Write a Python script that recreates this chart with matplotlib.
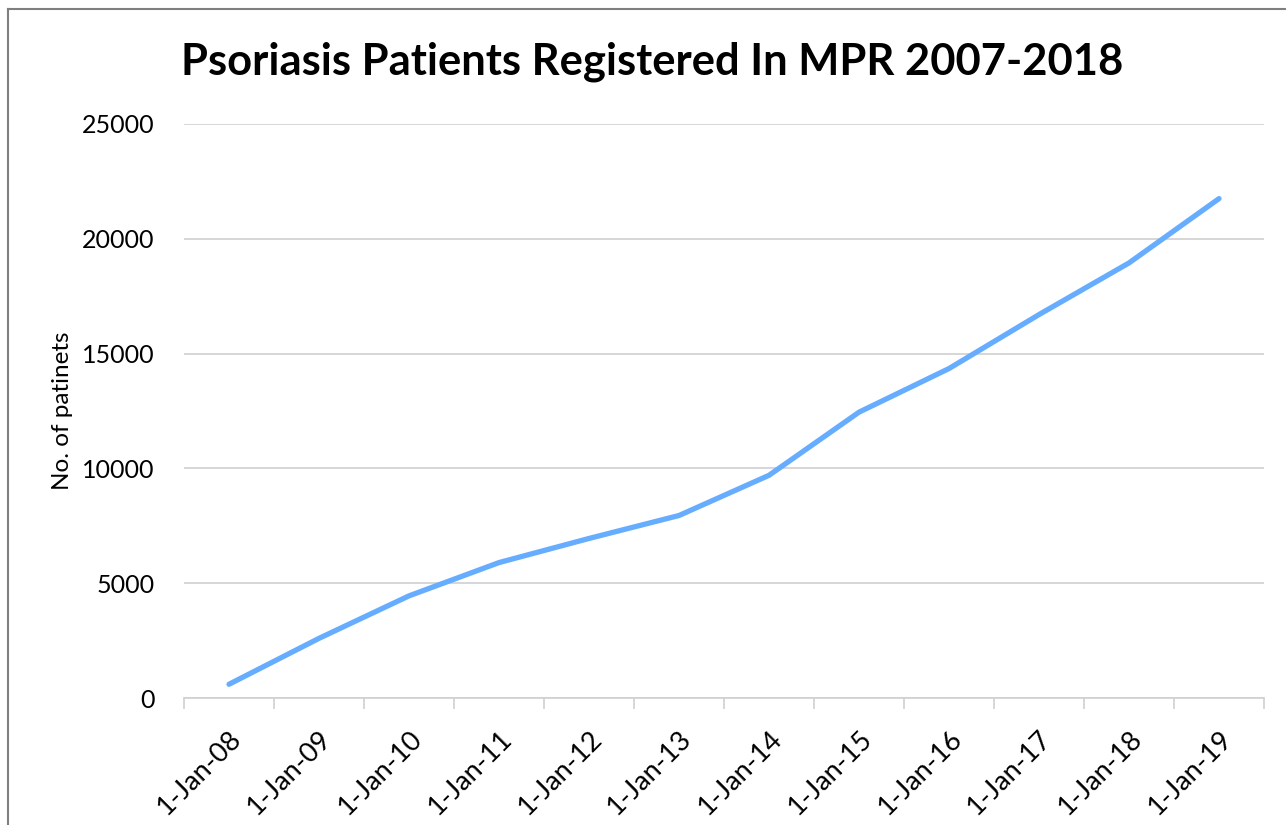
import numpy as np
import matplotlib.pyplot as plt
from matplotlib.lines import Line2D

# data
dates = ['1-Jan-08', '1-Jan-09', '1-Jan-10', '1-Jan-11', '1-Jan-12', '1-Jan-13',
         '1-Jan-14', '1-Jan-15', '1-Jan-16', '1-Jan-17', '1-Jan-18', '1-Jan-19']
patients = [600, 2600, 4450, 5900, 6950, 7950,
            9700, 12450, 14350, 16700, 18950, 21750]

plt.rcParams['font.family'] = ['Lato', 'DejaVu Sans']

fig = plt.figure(figsize=(12.86, 8.25), dpi=100)
ax = fig.add_axes([0.1431, 0.1539, 0.8398, 0.6958])

x = np.arange(len(dates))
ax.plot(x, patients, color='#66adff', lw=3.8, solid_capstyle='round', solid_joinstyle='round')

ax.set_xlim(-0.5, len(dates) - 0.5)
ax.set_ylim(0, 25000)
ax.set_yticks(np.arange(0, 25001, 5000))
ax.grid(axis='y', color='#d0d0d0', lw=1.2)
ax.set_axisbelow(True)

ax.set_xticks(x)
ax.set_xticklabels(dates, rotation=45, ha='right', rotation_mode='anchor', fontsize=19.5)
ax.set_xticks(np.arange(-0.5, len(dates)), minor=True)
ax.tick_params(axis='x', which='major', length=0, pad=20)
ax.tick_params(axis='x', which='minor', length=8, color='#d0d0d0', width=1.2)
ax.tick_params(axis='y', length=0, labelsize=18, pad=21)

for s in ['top', 'right', 'left']:
    ax.spines[s].set_visible(False)
ax.spines['bottom'].set_color('#d0d0d0')
ax.spines['bottom'].set_linewidth(1.2)

ax.set_ylabel('No. of patinets', fontsize=17.5, labelpad=7)
fig.text(0.507, 0.925, 'Psoriasis Patients Registered In MPR 2007-2018',
         ha='center', va='center', fontsize=31.3, fontweight='bold')

# frame at top/left edge of the picture
fig.add_artist(Line2D([0.006, 0.006], [0.0, 0.989], color='#7f7f7f', lw=1.5))
fig.add_artist(Line2D([0.006, 1.0], [0.989, 0.989], color='#7f7f7f', lw=1.5))

fig.savefig('out.png', dpi=100)
